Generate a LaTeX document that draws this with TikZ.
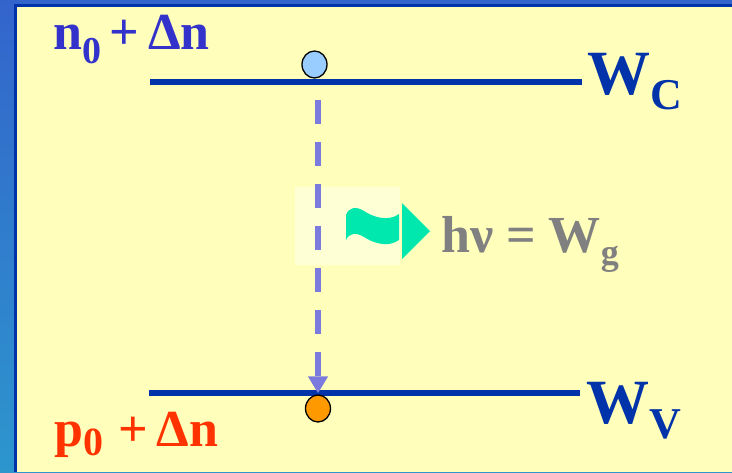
\documentclass[tikz,border=0pt]{standalone}
\usepackage{fontspec}
\setmainfont{Liberation Serif}
\usetikzlibrary{arrows.meta, shapes.geometric}

\definecolor{frameblue}{RGB}{0,51,170}
\definecolor{panel}{RGB}{255,255,187}
\definecolor{glowy}{RGB}{255,255,214}
\definecolor{jumpblue}{RGB}{123,123,221}
\definecolor{elecblue}{RGB}{153,204,255}
\definecolor{holeorange}{RGB}{255,153,0}
\definecolor{nblue}{RGB}{51,51,204}
\definecolor{pred}{RGB}{255,51,0}
\definecolor{photon}{RGB}{0,232,174}

\newcommand{\lowsub}[3]{\raisebox{-#1pt}{\fontsize{#2}{#2}\selectfont #3}}

\begin{document}
\begin{tikzpicture}[
  x=1pt, y=-1pt,
  level/.style={line width=6pt, frameblue},
  carrier/.style={ellipse, draw=black, line width=1.3pt, minimum width=25pt, minimum height=27pt, inner sep=0pt},
  jump/.style={-{Triangle[width=19pt, length=17pt]}, line width=6pt, jumpblue, dash pattern=on 24pt off 18pt},
  lbl/.style={inner sep=0pt, anchor=base west, font=\bfseries}]

% ---------- frame and panel
\useasboundingbox (0,0) rectangle (732,472);
\shade[top color={rgb,255:red,51;green,100;blue,204}, bottom color={rgb,255:red,45;green,150;blue,205}] (0,0) rectangle (732,472);
\fill[panel] (16,6) rectangle (732,472);
\draw[frameblue, line width=3pt] (15.5,472) -- (15.5,5.5) -- (732,5.5);
\fill[glowy] (295,187) rectangle (400,265);

% ---------- energy levels
\coordinate (cl) at (150,82);
\coordinate (cr) at (582,82);
\coordinate (vl) at (149,393);
\coordinate (vr) at (580,393);
\draw[level] (cl) -- (cr);
\draw[level] (vl) -- (vr);

% ---------- carriers and the transition
\node[carrier, fill=elecblue] (ec) at (314.5,64.5) {};
\node[carrier, fill=holeorange] (hv) at (318,408.5) {};
\draw[jump, shorten <=21pt, shorten >=1pt] (hv.north |- ec.south) -- (hv.north);

% ---------- emitted photon
\fill[photon] (346,215) .. controls (349,207) and (356,206) .. (364,211)
  .. controls (373,217) and (388,222) .. (399,214)
  -- (399,240) .. controls (388,248) and (373,243) .. (364,237)
  .. controls (356,232) and (349,233) .. (346,240) -- cycle;
\fill[photon] (402,203) -- (430,231) -- (402,259) -- cycle;

% ---------- labels
\node[lbl, text=nblue, font=\bfseries\fontsize{52}{52}\selectfont] (nlab) at (53,49) {n\lowsub{14}{38}{0}\,+\,Δn};
\node[lbl, text=pred, font=\bfseries\fontsize{52}{52}\selectfont] (plab) at (54,446) {p\lowsub{9}{40}{0}\hspace{0.3em}+\,Δn};
\node[lbl, text=frameblue, font=\bfseries\fontsize{63}{63}\selectfont] (wc) at (587,94) {W\lowsub{15}{44}{C}};
\node[lbl, text=frameblue, font=\bfseries\fontsize{63}{63}\selectfont] (wv) at (586,423) {W\lowsub{15}{44}{V}};
\node[lbl, text=black!50, font=\bfseries\fontsize{52}{52}\selectfont] (eg) at (441,252) {hν = W\lowsub{12}{36}{g}};
\end{tikzpicture}
\end{document}
